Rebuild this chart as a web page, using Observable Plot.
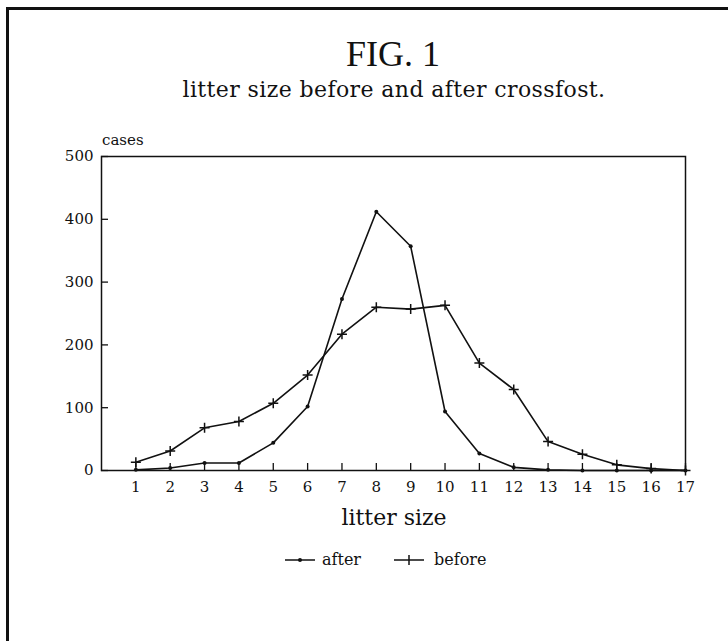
<!DOCTYPE html>
<html><head><meta charset="utf-8">
<script src="https://cdn.jsdelivr.net/npm/d3@7"></script>
<script src="https://cdn.jsdelivr.net/npm/@observablehq/plot@0.6"></script>
<style>
body{margin:0;background:#fff;}
#page{position:relative;width:728px;height:641px;overflow:hidden;font-family:"DejaVu Serif",serif;color:#111;background:#fff;}
.bt{position:absolute;left:6px;top:7px;width:722px;height:3px;background:#111;}
.bl{position:absolute;left:6px;top:7px;width:3px;height:634px;background:#111;}
.t{position:absolute;white-space:nowrap;line-height:1;}
#chart{position:absolute;left:0;top:0;}
#legend{position:absolute;left:284px;top:550px;height:20px;display:flex;align-items:center;font-size:16px;line-height:1;}
#legend span{display:inline-flex;align-items:center;}
</style></head><body>
<div id="page">
  <div class="bt"></div><div class="bl"></div>
  <div id="chart"></div>
  <div class="t" id="title" style="left:0;width:786px;text-align:center;top:36px;font-size:36px;font-family:'Liberation Serif',serif;">FIG. 1</div>
  <div class="t" id="sub" style="left:0;width:788px;text-align:center;top:79px;font-size:22px;letter-spacing:0.4px;">litter size before and after crossfost.</div>
  <div class="t" style="left:102px;top:133px;font-size:15px;">cases</div>
  <div class="t" style="left:0;width:788px;text-align:center;top:507px;font-size:22px;">litter size</div>
  <div id="legend">
    <span><svg width="32" height="12"><line x1="1" y1="6" x2="31" y2="6" stroke="#111" stroke-width="1.5"/><circle cx="16" cy="6" r="2" fill="#111"/></svg><span style="margin-left:6px">after</span></span>
    <span style="margin-left:32px"><svg width="32" height="12"><line x1="1" y1="6" x2="31" y2="6" stroke="#111" stroke-width="1.5"/><line x1="16" y1="1" x2="16" y2="11" stroke="#111" stroke-width="1.5"/></svg><span style="margin-left:9px">before</span></span>
  </div>
</div>
<script>
const litterSizes = [1,2,3,4,5,6,7,8,9,10,11,12,13,14,15,16,17];
const afterCases  = [1,4,12,12,44,102,273,412,357,94,27,5,1,0,0,0,0];
const beforeCases = [13,31,68,78,107,152,217,260,257,263,171,129,46,26,9,3,0];
const yTicks = [0,100,200,300,400,500];
const xTicks = litterSizes;

const afterRows = litterSizes.map((s,i)=>({size:s, cases:afterCases[i]}));
const beforeRows = litterSizes.map((s,i)=>({size:s, cases:beforeCases[i]}));

const plusSymbol = {
  draw(context, size) {
    const r = Math.sqrt(size / Math.PI);
    context.moveTo(-r, 0); context.lineTo(r, 0);
    context.moveTo(0, -r); context.lineTo(0, r);
  }
};

const chart = Plot.plot({
  width: 728, height: 641,
  marginLeft: 101, marginRight: 43, marginTop: 156, marginBottom: 171,
  x: {domain: [0, 17]},
  y: {domain: [0, 500]},
  style: {fontFamily: '"DejaVu Serif", serif', fontSize: "15px", color: "#111", background: "transparent", overflow: "visible"},
  marks: [
    Plot.frame({stroke: "#111", strokeWidth: 1.5}),
    Plot.axisX({ticks: xTicks, tickFormat: d => String(d), tickSize: -7, tickPadding: 18, label: null, strokeWidth: 1.3}),
    Plot.axisY({ticks: yTicks, tickFormat: d => String(d), tickSize: -7, tickPadding: 15, label: null, strokeWidth: 1.3}),
    Plot.line(afterRows, {x: "size", y: "cases", stroke: "#111", strokeWidth: 1.6}),
    Plot.dot(afterRows, {x: "size", y: "cases", r: 2, fill: "#111"}),
    Plot.line(beforeRows, {x: "size", y: "cases", stroke: "#111", strokeWidth: 1.6}),
    Plot.dot(beforeRows, {x: "size", y: "cases", r: 5, symbol: plusSymbol, stroke: "#111", strokeWidth: 1.5, fill: "none"})
  ]
});
document.getElementById("chart").appendChild(chart);
</script>
</body></html>
